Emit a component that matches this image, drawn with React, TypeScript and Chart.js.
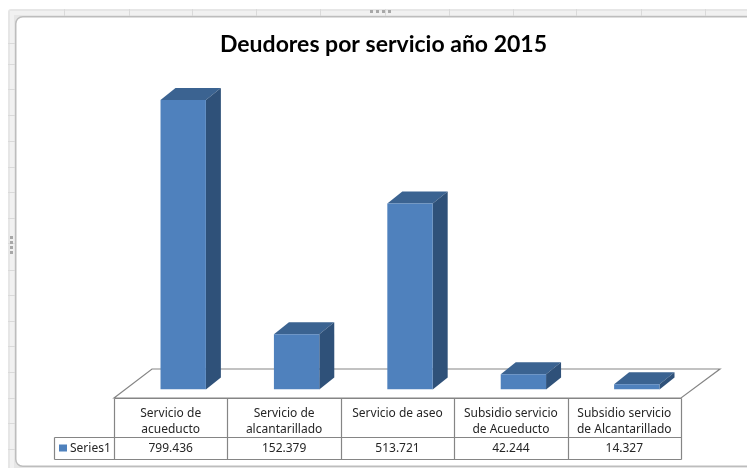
import React, { useEffect, useRef } from "react";
import { Chart, registerables } from "chart.js";

Chart.register(...registerables);

const title = "Deudores por servicio año 2015";
const seriesName = "Series1";
const categories: string[][] = [
  ["Servicio de", "acueducto"],
  ["Servicio de", "alcantarillado"],
  ["Servicio de aseo"],
  ["Subsidio servicio", "de Acueducto"],
  ["Subsidio servicio", "de Alcantarillado"],
];
const values: number[] = [799.436, 152.379, 513.721, 42.244, 14.327];
const valueLabels: string[] = ["799.436", "152.379", "513.721", "42.244", "14.327"];

const FRONT = "#4F81BD";
const TOP = "#3B6391";
const SIDE = "#2F5179";
const LINE = "#858585";
const TEXT = "#262626";
const FONT = "Noto Sans";
const FONT_SIZE = 12;
const DX = 15;
const DY = 12;
const TABLE_SHIFT = -12.5;

const chromePlugin = {
  id: "chrome",
  afterLayout(chart: any) {
    // the title is centred on the whole chart object, not on the plot
    chart.titleBlock.left = 20;
    chart.titleBlock.right = 747;
  },
  beforeDraw(chart: any) {
    const c = chart.ctx;
    c.save();
    c.fillStyle = "#ffffff";
    c.fillRect(0, 0, 747, 468);
    c.fillStyle = "#E6E6E6";
    c.beginPath();
    c.roundRect(8, 9, 760, 480, 3);
    c.fill();
    c.fillStyle = "#F1F1F1";
    c.fillRect(11, 11, 736, 4);
    c.fillRect(10, 11, 4, 457);
    c.fillStyle = "#DADADA";
    [64, 129, 192, 256, 320, 385, 449, 513, 576, 641, 705].forEach((x) => c.fillRect(x, 9, 1, 7));
    [43, 64, 89, 115, 141, 167, 192, 218, 243, 270, 295, 321, 346, 372, 398, 423, 449].forEach((y) =>
      c.fillRect(8, y, 7, 1)
    );
    c.fillStyle = "#A8A8A8";
    [370, 376, 382, 388].forEach((x) => c.fillRect(x, 10, 3, 3));
    [236, 241, 246, 251].forEach((y) => c.fillRect(10, y, 3, 3));
    c.fillStyle = "#ffffff";
    c.strokeStyle = "#BDBDBD";
    c.lineWidth = 1.5;
    c.beginPath();
    c.roundRect(15.75, 16.75, 760, 449.5, 7);
    c.fill();
    c.stroke();
    c.restore();
  },
};

const solidPlugin = {
  id: "solid",
  beforeDatasetsDraw(chart: any) {
    const c = chart.ctx;
    const bars = chart.getDatasetMeta(0).data;
    const xs = chart.scales.x;
    const step = xs.getPixelForTick(1) - xs.getPixelForTick(0);
    const left = xs.getPixelForTick(0) - step / 2 + TABLE_SHIFT;
    const right = left + step * categories.length;
    const base = chart.scales.y.getPixelForValue(0);
    c.save();
    c.fillStyle = "#ffffff";
    c.strokeStyle = LINE;
    c.lineWidth = 1.2;
    c.beginPath();
    c.moveTo(left, base + 8.5);
    c.lineTo(left + 38, base - 20.5);
    c.lineTo(right + 39, base - 20.5);
    c.lineTo(right, base + 8.5);
    c.closePath();
    c.fill();
    c.stroke();
    bars.forEach((b: any) => {
      const l = b.x - b.width / 2;
      const r = b.x + b.width / 2;
      c.fillStyle = TOP;
      c.beginPath();
      c.moveTo(l, b.y);
      c.lineTo(l + DX, b.y - DY);
      c.lineTo(r + DX, b.y - DY);
      c.lineTo(r, b.y);
      c.closePath();
      c.fill();
      c.fillStyle = SIDE;
      c.beginPath();
      c.moveTo(r, b.y);
      c.lineTo(r + DX, b.y - DY);
      c.lineTo(r + DX, base - DY);
      c.lineTo(r, base);
      c.closePath();
      c.fill();
    });
    c.restore();
  },
};

const tablePlugin = {
  id: "dataTable",
  afterDraw(chart: any) {
    const c = chart.ctx;
    const xs = chart.scales.x;
    const step = xs.getPixelForTick(1) - xs.getPixelForTick(0);
    const rawLeft = xs.getPixelForTick(0) - step / 2 + TABLE_SHIFT;
    const left = Math.round(rawLeft) + 0.5;
    const right = Math.round(rawLeft + step * categories.length) + 0.5;
    const base = chart.scales.y.getPixelForValue(0);
    const rowTop = Math.round(base + 8.5) + 0.5;
    const rowMid = rowTop + 39;
    const rowEnd = rowTop + 61;
    const legendLeft = 54.5;
    c.save();
    c.strokeStyle = LINE;
    c.lineWidth = 1.2;
    c.beginPath();
    c.moveTo(left, rowTop);
    c.lineTo(right, rowTop);
    c.moveTo(legendLeft, rowMid);
    c.lineTo(right, rowMid);
    c.moveTo(legendLeft, rowEnd);
    c.lineTo(right, rowEnd);
    c.moveTo(legendLeft, rowMid);
    c.lineTo(legendLeft, rowEnd);
    for (let i = 0; i <= categories.length; i++) {
      const x = Math.round(rawLeft + step * i) + 0.5;
      c.moveTo(x, rowTop);
      c.lineTo(x, rowEnd);
    }
    c.stroke();
    c.font = `${FONT_SIZE}px '${FONT}'`;
    c.fillStyle = TEXT;
    c.textBaseline = "middle";
    c.textAlign = "center";
    const rowY = (rowMid + rowEnd) / 2;
    valueLabels.forEach((t, i) => {
      c.fillText(t, rawLeft + step * (i + 0.5), rowY);
    });
    c.fillStyle = chart.data.datasets[0].backgroundColor;
    c.fillRect(59, rowY - 4, 8, 7);
    c.fillStyle = TEXT;
    c.textAlign = "left";
    c.fillText(chart.data.datasets[0].label, 70, rowY);
    c.restore();
  },
};

export default function App() {
  const ref = useRef<HTMLCanvasElement | null>(null);
  useEffect(() => {
    if (!ref.current) return;
    const chart = new Chart(ref.current, {
      type: "bar",
      data: {
        labels: categories,
        datasets: [
          {
            label: seriesName,
            data: values,
            backgroundColor: FRONT,
            borderWidth: 0,
            barPercentage: 1,
            categoryPercentage: 0.4,
          },
        ],
      },
      options: {
        responsive: false,
        animation: false,
        layout: { padding: { left: 126.5, right: 53.5, top: 0, bottom: 0 } },
        plugins: {
          legend: { display: false },
          tooltip: { enabled: false },
          title: {
            display: true,
            text: title,
            color: "#000000",
            font: { family: "Lato", size: 23, weight: "bold", lineHeight: 1.2 },
            padding: { top: 31, bottom: 41.4 },
          },
        },
        scales: {
          x: {
            grid: { display: false },
            border: { display: false },
            afterFit(scale: any) {
              scale.height = 78.5;
            },
            ticks: {
              autoSkip: false,
              maxRotation: 0,
              minRotation: 0,
              padding: 8,
              labelOffset: TABLE_SHIFT,
              color: TEXT,
              font: { family: FONT, size: FONT_SIZE, lineHeight: 1.35 },
            },
          },
          y: { display: false, min: 0, max: 799.436 },
        },
      } as any,
      plugins: [chromePlugin, solidPlugin, tablePlugin],
    });
    return () => chart.destroy();
  }, []);
  return (
    <canvas
      ref={ref}
      width={747}
      height={468}
      style={{ position: "fixed", left: 0, top: 0, width: 747, height: 468, display: "block" }}
    />
  );
}
